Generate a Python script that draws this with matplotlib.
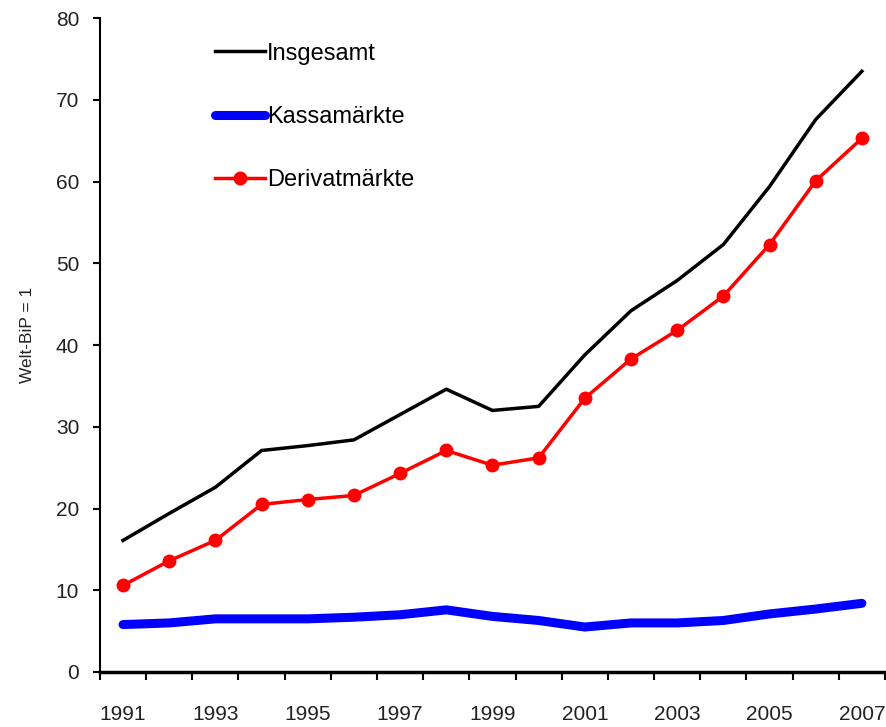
import numpy as np
import matplotlib.pyplot as plt
from matplotlib.ticker import FixedLocator, NullFormatter

plt.rcParams['font.family'] = ['Liberation Sans', 'DejaVu Sans']

# Data (Welt-BiP = 1)
years = list(range(1991, 2008))
insgesamt = [16.1, 19.4, 22.6, 27.1, 27.7, 28.4, 31.5, 34.6, 32.0, 32.5,
             38.8, 44.2, 47.9, 52.3, 59.4, 67.6, 73.5]
kassa = [5.8, 6.0, 6.5, 6.5, 6.5, 6.7, 7.0, 7.6, 6.8, 6.3,
         5.5, 6.0, 6.0, 6.3, 7.1, 7.7, 8.4]
derivat = [10.6, 13.6, 16.1, 20.5, 21.1, 21.6, 24.3, 27.1, 25.3, 26.2,
           33.5, 38.3, 41.8, 46.0, 52.3, 60.1, 65.3]

x = np.arange(len(years))

fig = plt.figure(figsize=(8.87, 7.27), dpi=100)
ax = fig.add_axes([0.1127, 0.0757, 0.885, 0.8993])

ax.plot(x, insgesamt, color='black', lw=2.5, label='Insgesamt')
ax.plot(x, kassa, color='#0000ff', lw=6.5, solid_capstyle='round', label='Kassamärkte')
ax.plot(x, derivat, color='#ff0000', lw=2.5, marker='o', ms=9, label='Derivatmärkte')

ax.set_xlim(-0.5, len(years) - 0.5)
ax.set_ylim(0, 80)
ax.set_yticks(range(0, 81, 10))

# category axis: tick marks between categories, labels on every other year
ax.xaxis.set_major_locator(FixedLocator(np.arange(-0.5, len(years), 1.0)))
ax.xaxis.set_major_formatter(NullFormatter())
ax.xaxis.set_minor_locator(FixedLocator(x[::2]))
ax.set_xticklabels([str(y) for y in years[::2]], minor=True)
ax.tick_params(axis='x', which='major', length=6, width=1.5, direction='out')
ax.tick_params(axis='x', which='minor', length=0, pad=24, labelsize=15, labelcolor='#222222')
ax.tick_params(axis='y', length=5, width=1.5, direction='out', pad=10,
               labelsize=15, labelcolor='#222222')

for s in ['top', 'right']:
    ax.spines[s].set_visible(False)
ax.spines['left'].set_linewidth(1.5)
ax.spines['bottom'].set_linewidth(2.5)

ax.set_ylabel('Welt-BiP = 1', fontsize=12.5, color='#222222')
ax.yaxis.set_label_coords(-0.083, 0.515)

ax.legend(loc='upper left', bbox_to_anchor=(0.12, 0.995), frameon=False,
          fontsize=17, handlelength=2.1, handletextpad=0.1, labelspacing=1.75)

fig.savefig('out.png', dpi=100)
